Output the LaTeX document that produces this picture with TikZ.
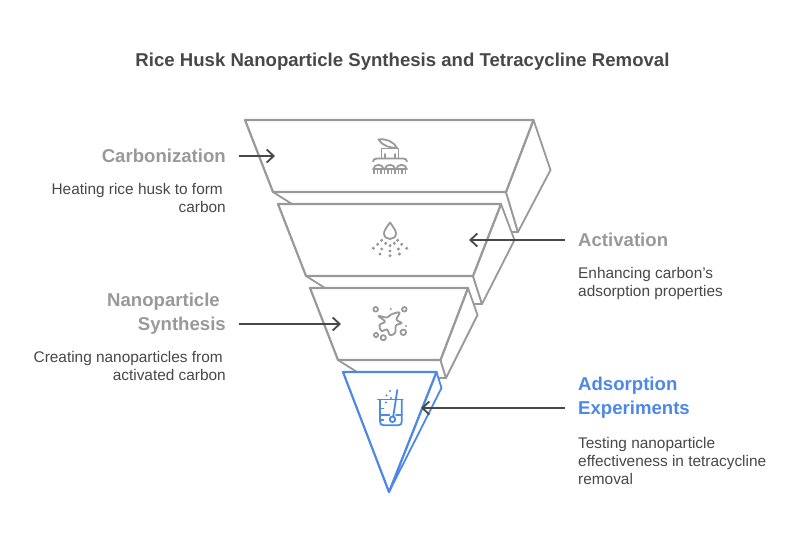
\documentclass[tikz,border=0pt]{standalone}
\usepackage{fontspec}
\setmainfont{Liberation Sans}
\usetikzlibrary{arrows.meta}
\definecolor{gr}{HTML}{999999}
\definecolor{ink}{HTML}{484848}
\definecolor{bl}{HTML}{4E88E7}
\tikzset{
 face/.style={draw=gr,fill=white,line width=2.2pt,line join=round},
 sidef/.style={draw=gr,fill=white,line width=1.8pt,line join=round},
 bface/.style={draw=bl,fill=white,line width=2.2pt,line join=round},
 bside/.style={draw=bl,fill=white,line width=1.8pt,line join=round},
 conn/.style={draw=ink,line width=1.8pt,-{Straight Barb[length=7pt,width=13pt,line width=1.8pt]}},
 titlet/.style={font=\fontsize{18.6}{22}\selectfont\bfseries,text=ink,inner sep=0pt},
 headr/.style={font=\fontsize{18.6}{24}\selectfont\bfseries,text=gr,inner sep=0pt,align=right,anchor=north east},
 headl/.style={font=\fontsize{18.6}{24}\selectfont\bfseries,text=gr,inner sep=0pt,align=left,anchor=north west},
 bodyr/.style={font=\fontsize{15.4}{18}\selectfont,text=ink,inner sep=0pt,align=right,anchor=north east},
 bodyl/.style={font=\fontsize{15.4}{18}\selectfont,text=ink,inner sep=0pt,align=left,anchor=north west},
 ic/.style={draw=gr,line width=1.8pt,line cap=round,line join=round},
 icb/.style={draw=bl,line width=1.8pt,line cap=round,line join=round},
}
\begin{document}
\begin{tikzpicture}[x=1pt,y=-1pt]
\useasboundingbox (0,0) rectangle (804,540);
\fill[white] (0,0) rectangle (804,540);
\node[titlet] (title) at (402.5,62) {Rice Husk Nanoparticle Synthesis and Tetracycline Removal};

% band 1
\draw[sidef] (273,192) -- (292,204) -- (512,232) -- (518,232) -- (506,192) -- cycle;
\draw[sidef] (533.5,120) -- (550.5,170) -- (518,232) -- (506,192) -- cycle;
\draw[face] (245,120) -- (533.5,120) -- (506,192) -- (273,192) -- cycle;
% band 2
\draw[sidef] (306,276) -- (325,288) -- (476,304) -- (482,304) -- (473,276) -- cycle;
\draw[sidef] (501,204) -- (514.5,240) -- (482,304) -- (473,276) -- cycle;
\draw[face] (278,204) -- (501,204) -- (473,276) -- (306,276) -- cycle;
% band 3
\draw[sidef] (338,360) -- (357,372) -- (438,378) -- (446,378) -- (440.5,360) -- cycle;
\draw[sidef] (468,288) -- (477.5,315) -- (446,378) -- (440.5,360) -- cycle;
\draw[face] (310,288) -- (468,288) -- (440.5,360) -- (338,360) -- cycle;
% tip
\draw[bside] (436.5,372) -- (441.5,388) -- (389,492) -- cycle;
\draw[bface] (343,372) -- (436.5,372) -- (389,492) -- cycle;

% icon 1
\draw[ic] (378.5,139.5) .. controls (386,138.5) and (393,141) .. (397,148) .. controls (391,148) and (382,146) .. (378.5,139.5) -- cycle;
\draw[ic] (381.5,158.5) -- (381.5,148.5) -- (398.5,148.5) -- (398.5,158.5);
\draw[ic] (373,161.5) .. controls (373,159.5) and (375,158.5) .. (377,158.5) -- (403,158.5) .. controls (405,158.5) and (407,159.5) .. (407,161.5);
\draw[ic] (385,154) -- (385,158) (395,154) -- (395,158);
\foreach \cx in {378.5,390,401.5}{
 \draw[ic] (\cx-5,169) .. controls (\cx-5,163.5) and (\cx+5,163.5) .. (\cx+5,169);
}
\draw[ic] (373,169) -- (407,169);
\foreach \cx in {374,377.5,381,384.5,388,391.5,395,398.5,402,405.5}{
 \draw[ic,line width=1.2pt] (\cx,170) -- (\cx,173.5);
}

% icon 2
\draw[ic] (390,222.5) .. controls (386,228) and (384,231) .. (384,233.5) .. controls (384,237) and (387,239) .. (390,239) .. controls (393,239) and (396,237) .. (396,233.5) .. controls (396,231) and (394,228) .. (390,222.5) -- cycle;
\foreach \px/\py in {381.7/240.3,397.7/240.3,377.7/244.3,385.7/243.3,390/245.7,394.3/243.3,401.7/244.3,373.3/248.3,381.7/249,390/251,398.3/249,406.7/248.3,380/254,390/255.7,399.3/254}{
 \fill[gr] (\px,\py) circle (1.7pt);
}

% icon 3
\draw[ic] plot[smooth cycle,tension=.6] coordinates {(378.5,316) (387,317.5) (391,314.5) (399.5,312.5) (396.5,319.5) (401.5,323) (396,325.5) (395,333) (390,335) (387,329.5) (381.5,331) (379.5,325) (385,321.5)};
\foreach \px/\py/\pr in {375.7/309.3/2.3,404.3/309.3/2.3,376/335/2.1,383.3/337.7/2.6,403.3/332.3/2.8}{
 \draw[ic] (\px,\py) circle (\pr pt);
}
\fill[gr] (390.7,309) circle (1.2pt) (406,326) circle (1.2pt);

% icon 4
\draw[icb] (377.7,399.5) -- (402.7,399.5);
\draw[icb] (380,399.5) -- (380,421) .. controls (380,424) and (381,425.3) .. (384,425.3) -- (398,425.3) .. controls (401,425.3) and (401.8,424) .. (401.8,421) -- (401.8,399.5);
\draw[icb] (380,415) -- (389.5,415) (396,415) -- (401.8,415);
\draw[icb] (380,408.5) -- (383.5,408.5) (380,420) -- (383.5,420);
\draw[icb] (397.3,390) -- (393.3,416);
\draw[icb] (392.5,419.3) circle (2.8pt);
\fill[bl] (386.5,395.5) circle (1.2pt) (390,391) circle (1.2pt) (391,398) circle (1.1pt) (386,402.5) circle (1.1pt);

% texts
\node[headr] (carb) at (226,149) {Carbonization};
\node[bodyr] (carbb) at (226,183) {Heating rice husk to form\rule{3pt}{0pt}\\carbon};
\node[headl] (acti) at (578,233) {Activation};
\node[bodyl] (actib) at (578,267) {Enhancing carbon's\\adsorption properties};
\node[headr] (nano) at (226,293) {Nanoparticle\rule{6pt}{0pt}\\Synthesis};
\node[bodyr] (nanob) at (226,351) {Creating nanoparticles from\rule{3pt}{0pt}\\activated carbon};
\node[headl,text=bl] (adso) at (578,377) {Adsorption\\Experiments};
\node[bodyl] (adsob) at (578,437) {Testing nanoparticle\\effectiveness in tetracycline\\removal};

% connectors
\coordinate (c1a) at (239,156); \coordinate (c1b) at (275,156);
\coordinate (c2a) at (565,240); \coordinate (c2b) at (469,240);
\coordinate (c3a) at (239,324); \coordinate (c3b) at (341,324);
\coordinate (c4a) at (565,408); \coordinate (c4b) at (421,408);
\draw[conn] (c1a) -- (c1b);
\draw[conn] (c2a) -- (c2b);
\draw[conn] (c3a) -- (c3b);
\draw[conn] (c4a) -- (c4b);
\end{tikzpicture}
\end{document}
